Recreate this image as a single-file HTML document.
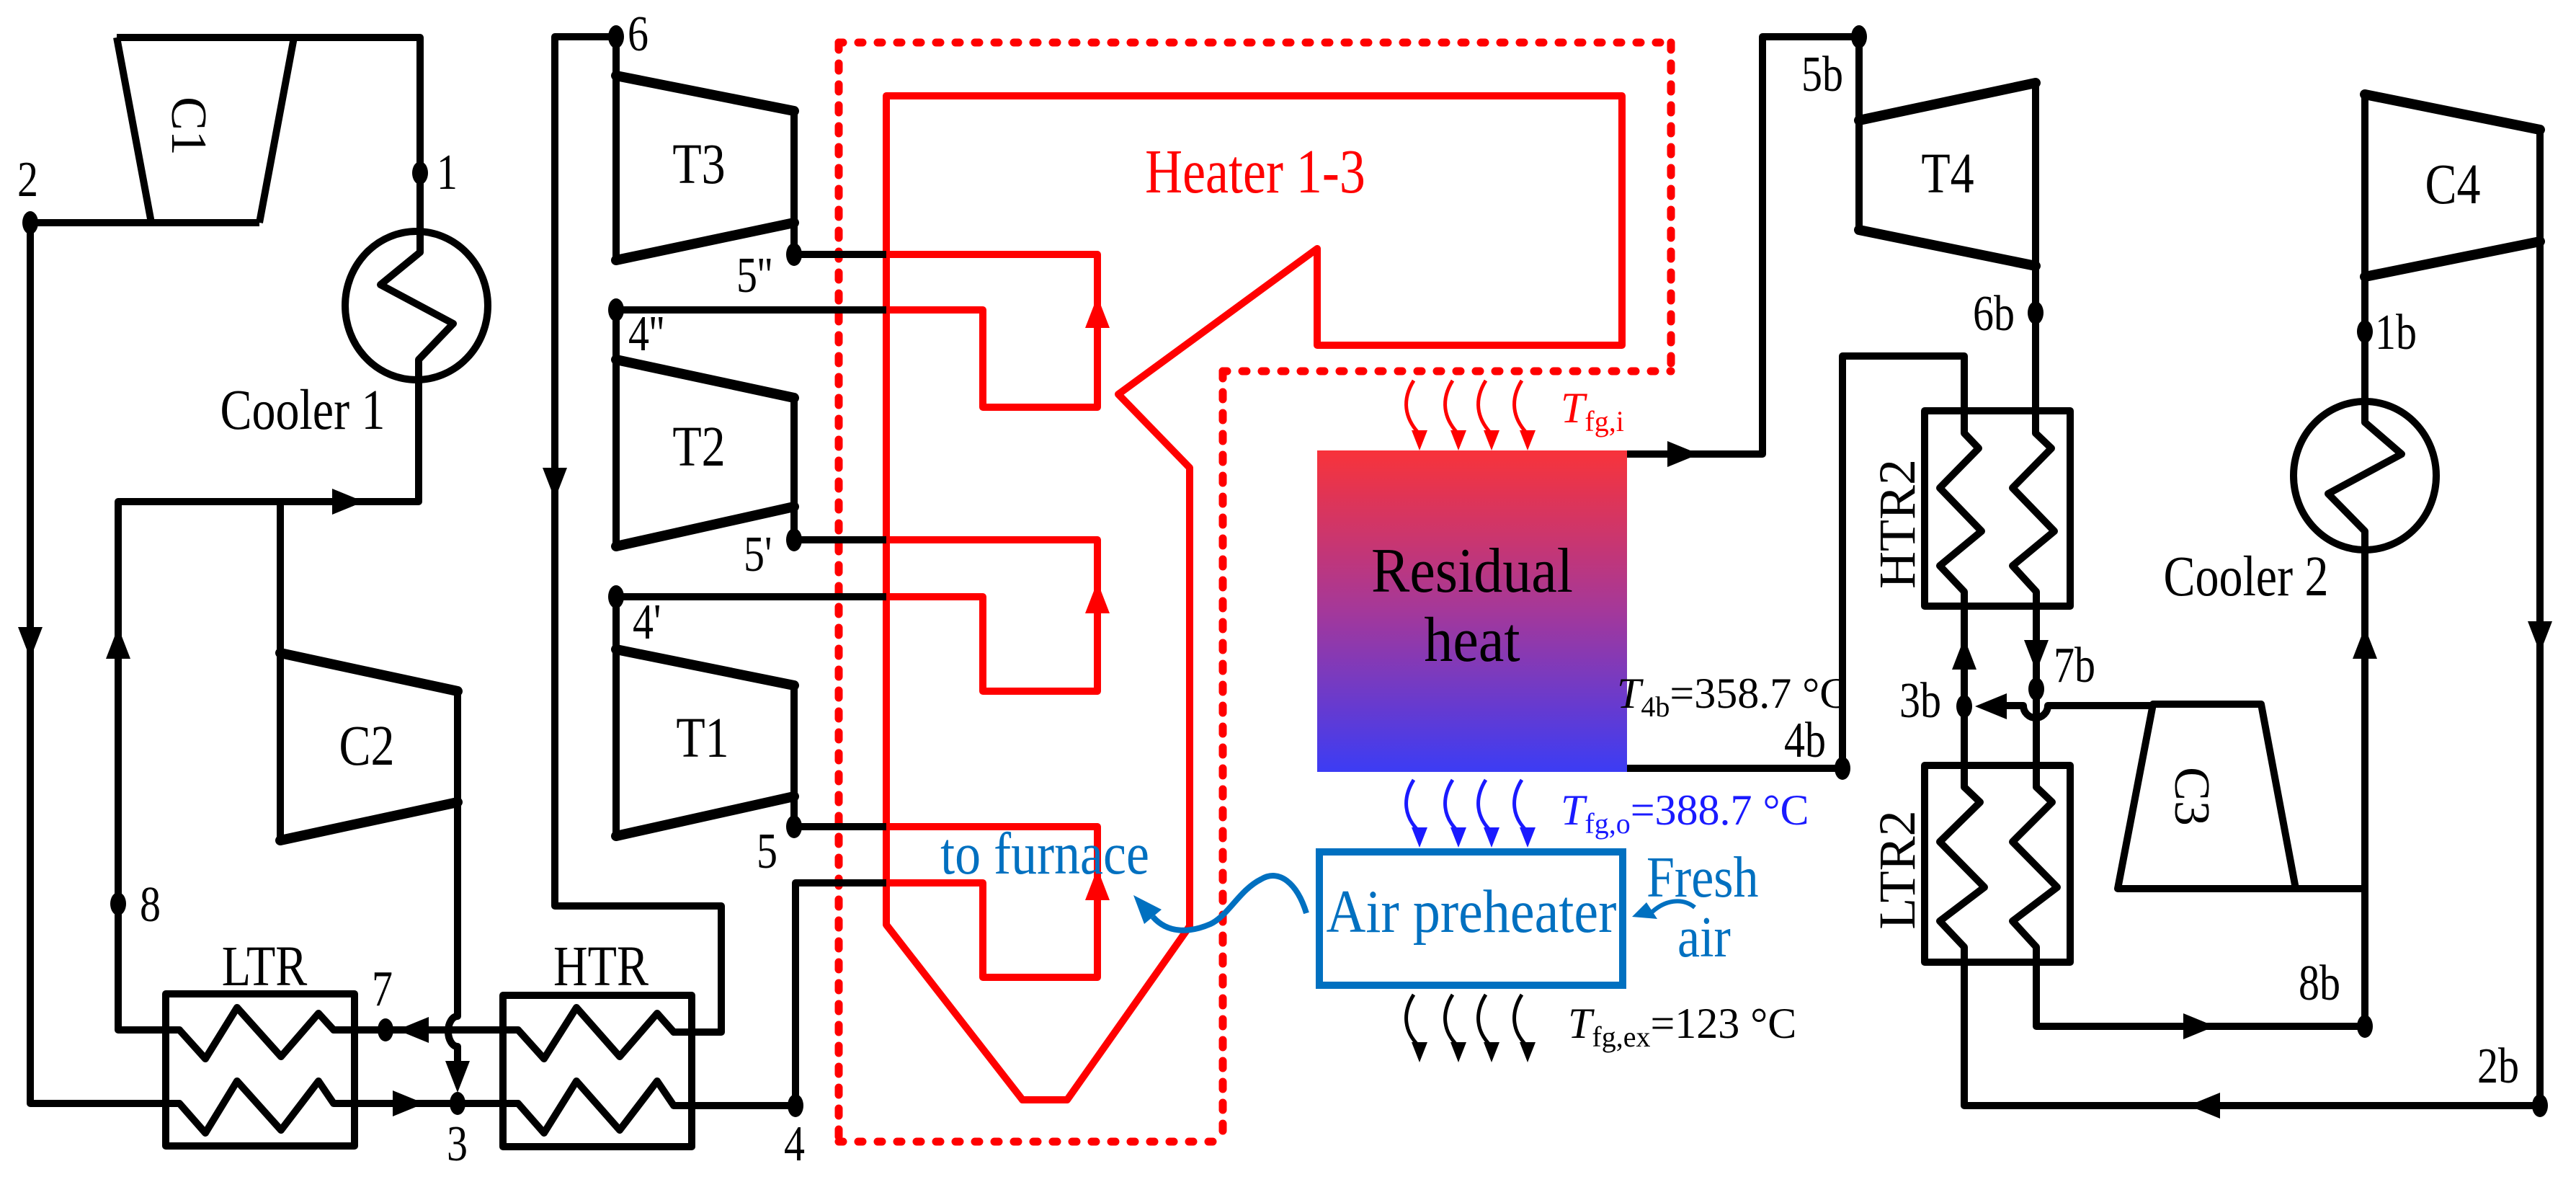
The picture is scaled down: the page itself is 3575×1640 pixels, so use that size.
<!DOCTYPE html>
<html><head><meta charset="utf-8"><style>html,body{margin:0;padding:0;background:#fff}svg{display:block}svg text{font-family:"Liberation Serif","Times New Roman",serif}</style></head><body>
<svg xmlns="http://www.w3.org/2000/svg" width="3575" height="1640" viewBox="0 0 3575 1640">
<defs>
<linearGradient id="g" x1="0" y1="0" x2="0" y2="1"><stop offset="0" stop-color="#f8333a"/><stop offset="0.5" stop-color="#a4389a"/><stop offset="1" stop-color="#3c3cf4"/></linearGradient>
</defs>
<rect width="3575" height="1640" fill="#fff"/>

<g fill="none" stroke="#f00" stroke-width="11" stroke-linecap="round">
<path d="M1164,59 H2319" stroke-dasharray="6 21"/>
<path d="M1697,515 H2319" stroke-dasharray="6 21"/>
<path d="M1164,1584 H1697" stroke-dasharray="6 21"/>
<path d="M1164,59 V1584" stroke-dasharray="10 19"/>
<path d="M2319,59 V515" stroke-dasharray="10 19"/>
<path d="M1697,515 V1584" stroke-dasharray="10 19"/>
</g>

<g fill="none" stroke="#f00" stroke-width="10" stroke-linejoin="round">
<path d="M1230,133 V1283 L1419,1526 H1481 L1651,1285 V649 L1552,547 L1828,345 V479 H2251 V133 Z"/>
<path d="M1230,353 H1523 V565 H1364 V430 H1230"/>
<path d="M1230,749 H1523 V959 H1364 V828 H1230"/>
<path d="M1230,1147 H1523 V1356 H1364 V1225 H1230"/>
</g>
<g fill="#f00">
<polygon points="1506,455 1540,455 1523,411"/>
<polygon points="1506,851 1540,851 1523,807"/>
<polygon points="1506,1249 1540,1249 1523,1205"/>
</g>

<g fill="none" stroke="#000" stroke-width="10" stroke-linejoin="round">
<path d="M162,52 H583 V350 L528,395 L629,449 L581,499 V696 H164 V1429 H249 L285,1469 L329,1398 L390,1466 L442,1406 L463,1429 H719 L755,1469 L800,1398 L860,1466 L912,1406 L935,1432 H1001 V1257 H770 V51 H855 V105"/>
<path d="M162,52 L210,309 M408,52 L360,309 M42,309 H360"/>
<path d="M42,309 V1531 H249 L285,1572 L329,1500 L390,1568 L442,1500 L463,1531 H719 L755,1572 L800,1500 L860,1568 L912,1500 L935,1534 H1104 V1225 H1230"/>
<path d="M389,696 V1166 M635,959 V1410 A13 21 0 0 0 635,1452 V1480"/>
<path d="M855,105 V361 M1102,154 V353 H1230 M855,430 H1230 M855,430 V758 M1102,552 V749 H1230 M855,828 H1230 M855,828 V1160 M1102,951 V1147 H1230"/>
<rect x="230" y="1379" width="262" height="211"/>
<rect x="698" y="1381" width="262" height="210"/>
<path d="M2258,630 H2446 V51 H2580 V167 M2580,319 V167 M2825,115 V601 L2847,622 L2793,677 L2851,737 L2793,785 L2826,821 V1092 L2848,1113 L2793,1168 L2855,1231 L2793,1278 L2826,1314 V1424 H3282"/>
<path d="M2258,1066 H2557 V494 H2726 V601 L2746,622 L2692,677 L2750,737 L2692,785 L2726,821 V1092 L2748,1113 L2692,1168 L2754,1231 L2692,1278 L2726,1314 V1534 H3525 V180"/>
<rect x="2671" y="570" width="202" height="271"/>
<rect x="2671" y="1062" width="202" height="273"/>
<path d="M2988,979 H2842 A17 17 0 0 1 2808,979 H2760"/>
<path d="M2988,977 H3138 L3186,1233 H2939 Z"/>
<path d="M3186,1233 H3282"/>
<path d="M3282,131 V586 L3333,630 L3231,685 L3282,737 V1424"/>
<path d="M3525,180 V335"/>
<ellipse cx="578" cy="424" rx="99" ry="103"/>
<ellipse cx="3282" cy="660" rx="99" ry="103"/>
</g>
<g stroke="#000" stroke-width="14" stroke-linecap="round">
<line x1="855" y1="105" x2="1102" y2="154"/><line x1="855" y1="361" x2="1102" y2="309"/>
<line x1="855" y1="499" x2="1102" y2="552"/><line x1="855" y1="758" x2="1102" y2="703"/>
<line x1="855" y1="901" x2="1102" y2="951"/><line x1="855" y1="1160" x2="1102" y2="1105"/>
<line x1="389" y1="906" x2="635" y2="959"/><line x1="389" y1="1166" x2="635" y2="1113"/>
<line x1="2580" y1="167" x2="2825" y2="115"/><line x1="2580" y1="319" x2="2825" y2="369"/>
<line x1="3282" y1="131" x2="3525" y2="180"/><line x1="3282" y1="384" x2="3525" y2="335"/>
</g>

<g fill="#000">
<polygon points="25,870 59,870 42,914"/>
<polygon points="147,914 181,914 164,870"/>
<polygon points="461,678 461,714 505,696"/>
<polygon points="753,649 787,649 770,693"/>
<polygon points="595,1411 595,1447 551,1429"/>
<polygon points="545,1513 545,1549 589,1531"/>
<polygon points="618,1472 652,1472 635,1516"/>
<polygon points="2314,612 2314,648 2358,630"/>
<polygon points="2709,929 2743,929 2726,885"/>
<polygon points="2809,888 2843,888 2826,932"/>
<polygon points="2785,962 2785,998 2741,980"/>
<polygon points="3030,1406 3030,1442 3074,1424"/>
<polygon points="3081,1516 3081,1552 3037,1534"/>
<polygon points="3265,914 3299,914 3282,870"/>
<polygon points="3508,862 3542,862 3525,906"/>
</g>
<g fill="#000">
<ellipse cx="583" cy="240" rx="11" ry="16"/><ellipse cx="42" cy="309" rx="11" ry="16"/>
<ellipse cx="855" cy="51" rx="11" ry="16"/><ellipse cx="1102" cy="353" rx="11" ry="16"/>
<ellipse cx="855" cy="430" rx="11" ry="16"/><ellipse cx="1102" cy="749" rx="11" ry="16"/>
<ellipse cx="855" cy="828" rx="11" ry="16"/><ellipse cx="1102" cy="1147" rx="11" ry="16"/>
<ellipse cx="164" cy="1254" rx="11" ry="16"/><ellipse cx="535" cy="1429" rx="11" ry="16"/>
<ellipse cx="635" cy="1531" rx="11" ry="16"/><ellipse cx="1104" cy="1534" rx="11" ry="16"/>
<ellipse cx="2580" cy="51" rx="11" ry="16"/><ellipse cx="2825" cy="434" rx="11" ry="16"/>
<ellipse cx="3282" cy="460" rx="11" ry="16"/><ellipse cx="2557" cy="1066" rx="11" ry="16"/>
<ellipse cx="2726" cy="980" rx="11" ry="16"/><ellipse cx="2826" cy="956" rx="11" ry="16"/>
<ellipse cx="3282" cy="1424" rx="11" ry="16"/><ellipse cx="3525" cy="1534" rx="11" ry="16"/>
</g>

<rect x="1828" y="625" width="430" height="446" fill="url(#g)"/>
<text transform="translate(2043 821) scale(1 1.1)" font-size="80" text-anchor="middle">Residual</text>
<text transform="translate(2043 917) scale(1 1.1)" font-size="80" text-anchor="middle">heat</text>
<rect x="1831" y="1182" width="421" height="185" fill="none" stroke="#0070c0" stroke-width="10"/>
<text transform="translate(2042 1293) scale(1 1.12)" font-size="76" text-anchor="middle" fill="#0070c0">Air preheater</text>

<g fill="none" stroke-width="5">
<g stroke="#f00"><path d="M1962,528 C1945,555 1950,580 1968,600"/><path d="M2016,528 C1999,555 2004,580 2022,600"/><path d="M2062,528 C2045,555 2050,580 2068,600"/><path d="M2112,528 C2095,555 2100,580 2118,600"/></g>
<g stroke="#1a1aff"><path d="M1962,1082 C1945,1109 1950,1134 1968,1152"/><path d="M2016,1082 C1999,1109 2004,1134 2022,1152"/><path d="M2062,1082 C2045,1109 2050,1134 2068,1152"/><path d="M2112,1082 C2095,1109 2100,1134 2118,1152"/></g>
<g stroke="#000"><path d="M1962,1380 C1945,1407 1950,1432 1968,1450"/><path d="M2016,1380 C1999,1407 2004,1432 2022,1450"/><path d="M2062,1380 C2045,1407 2050,1432 2068,1450"/><path d="M2112,1380 C2095,1407 2100,1432 2118,1450"/></g>
</g>
<g fill="#f00"><polygon points="1959,597 1981,597 1970,625"/><polygon points="2013,597 2035,597 2024,625"/><polygon points="2059,597 2081,597 2070,625"/><polygon points="2109,597 2131,597 2120,625"/></g>
<g fill="#1a1aff"><polygon points="1959,1148 1981,1148 1970,1176"/><polygon points="2013,1148 2035,1148 2024,1176"/><polygon points="2059,1148 2081,1148 2070,1176"/><polygon points="2109,1148 2131,1148 2120,1176"/></g>
<g fill="#000"><polygon points="1959,1446 1981,1446 1970,1474"/><polygon points="2013,1446 2035,1446 2024,1474"/><polygon points="2059,1446 2081,1446 2070,1474"/><polygon points="2109,1446 2131,1446 2120,1474"/></g>
<path d="M1813,1267 C1800,1225 1775,1205 1750,1220 C1720,1235 1705,1270 1680,1282 C1650,1295 1620,1295 1600,1272" fill="none" stroke="#0070c0" stroke-width="8"/>
<polygon points="1573,1242 1588,1282 1612,1262" fill="#0070c0"/>
<path d="M2352,1259 C2335,1245 2310,1248 2290,1268" fill="none" stroke="#0070c0" stroke-width="6"/>
<polygon points="2265,1272 2285,1252 2300,1275" fill="#0070c0"/>

<g font-size="58">
<text transform="translate(606 262) scale(1 1.2)">1</text>
<text transform="translate(24 272) scale(1 1.2)">2</text>
<text transform="translate(871 70) scale(1 1.2)">6</text>
<text transform="translate(1022 405) scale(1 1.2)">5''</text>
<text transform="translate(872 486) scale(1 1.2)">4''</text>
<text transform="translate(1032 792) scale(1 1.2)">5'</text>
<text transform="translate(878 886) scale(1 1.2)">4'</text>
<text transform="translate(1050 1204) scale(1 1.2)">5</text>
<text transform="translate(194 1278) scale(1 1.2)">8</text>
<text transform="translate(516 1395) scale(1 1.2)">7</text>
<text transform="translate(620 1610) scale(1 1.2)">3</text>
<text transform="translate(1088 1610) scale(1 1.2)">4</text>
<text transform="translate(2500 126) scale(1 1.2)">5b</text>
<text transform="translate(2738 458) scale(1 1.2)">6b</text>
<text transform="translate(3296 484) scale(1 1.2)">1b</text>
<text transform="translate(2476 1050) scale(1 1.2)">4b</text>
<text transform="translate(2636 995) scale(1 1.2)">3b</text>
<text transform="translate(2850 946) scale(1 1.2)">7b</text>
<text transform="translate(3190 1387) scale(1 1.2)">8b</text>
<text transform="translate(3438 1502) scale(1 1.2)">2b</text>
</g>
<g font-size="66" text-anchor="middle">
<text transform="translate(420 595) scale(1 1.2)">Cooler 1</text>
<text transform="translate(3117 826) scale(1 1.2)">Cooler 2</text>
<text transform="translate(970 254) scale(1 1.2)">T3</text>
<text transform="translate(970 646) scale(1 1.2)">T2</text>
<text transform="translate(975 1050) scale(1 1.2)">T1</text>
<text transform="translate(509 1061) scale(1 1.2)">C2</text>
<text transform="translate(2703 267) scale(1 1.2)">T4</text>
<text transform="translate(3404 282) scale(1 1.2)">C4</text>
<text transform="translate(367 1367) scale(1 1.2)">LTR</text>
<text transform="translate(834 1367) scale(1 1.2)">HTR</text>
<text transform="translate(263 175) rotate(90)" font-size="70" dy="24">C1</text>
<text transform="translate(3043 1105) rotate(90)" font-size="70" dy="24">C3</text>
<text transform="translate(2657 727) rotate(-90)" font-size="72">HTR2</text>
<text transform="translate(2657 1207) rotate(-90)" font-size="72">LTR2</text>
</g>
<text transform="translate(1742 267) scale(1 1.2)" font-size="72" text-anchor="middle" fill="#f00">Heater 1-3</text>
<text transform="translate(1450 1212) scale(1 1.15)" font-size="72" text-anchor="middle" fill="#0070c0">to furnace</text>
<text transform="translate(2285 1244) scale(1 1.15)" font-size="70" fill="#0070c0">Fresh</text>
<text transform="translate(2328 1327) scale(1 1.15)" font-size="70" fill="#0070c0">air</text>

<text x="2166" y="586" font-size="60" fill="#f00"><tspan font-style="italic">T</tspan><tspan font-size="40" dy="12">fg,i</tspan></text>
<text x="2166" y="1144" font-size="60" fill="#1a1aff"><tspan font-style="italic">T</tspan><tspan font-size="40" dy="12">fg,o</tspan><tspan dy="-12">=388.7 °C</tspan></text>
<text x="2176" y="1440" font-size="60" fill="#000"><tspan font-style="italic">T</tspan><tspan font-size="40" dy="12">fg,ex</tspan><tspan dy="-12">=123 °C</tspan></text>
<text x="2244" y="982" font-size="60" fill="#000"><tspan font-style="italic">T</tspan><tspan font-size="40" dy="12">4b</tspan><tspan dy="-12">=358.7 °C</tspan></text>
</svg>
</body></html>
